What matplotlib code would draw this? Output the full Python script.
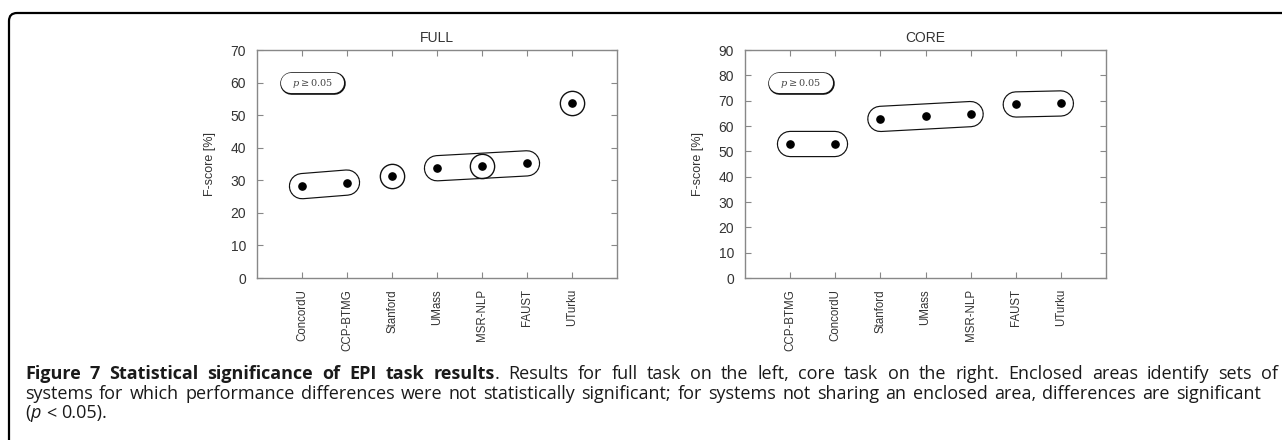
import matplotlib
matplotlib.use('Agg')
import matplotlib.pyplot as plt
import matplotlib.patheffects as pe
from matplotlib.patches import FancyBboxPatch
from matplotlib.transforms import Affine2D

W, H = 1282, 440

full_systems = ['ConcordU', 'CCP-BTMG', 'Stanford', 'UMass', 'MSR-NLP', 'FAUST', 'UTurku']
full_scores = [28.2, 29.3, 31.4, 33.7, 34.5, 35.2, 53.6]
full_groups = [['ConcordU', 'CCP-BTMG'], ['UMass', 'MSR-NLP', 'FAUST']]
full_single = ['Stanford', 'MSR-NLP', 'UTurku']

core_systems = ['CCP-BTMG', 'ConcordU', 'Stanford', 'UMass', 'MSR-NLP', 'FAUST', 'UTurku']
core_scores = [52.9, 52.9, 62.8, 64.1, 64.7, 68.5, 68.9]
core_groups = [['CCP-BTMG', 'ConcordU'], ['Stanford', 'UMass', 'MSR-NLP'], ['FAUST', 'UTurku']]
core_single = []

fig = plt.figure(figsize=(W / 100, H / 100), dpi=100)
plt.rcParams['font.family'] = ['Liberation Sans', 'DejaVu Sans']
plt.rcParams['mathtext.fontset'] = 'dejavuserif'

px = Affine2D().scale(1 / W, 1 / H) + fig.transFigure

# frame of the figure panel (rounded top-left corner)
frame = FancyBboxPatch((9, -30), 1400, H - 13 + 30, boxstyle='round,pad=0,rounding_size=8',
                       transform=px, fill=False, lw=1.6, ec='black')
fig.patches.append(frame)

capsule_fx = [pe.Stroke(linewidth=19.0, foreground='#111111'), pe.Normal()]


def panel(rect, title, systems, scores, groups, singles, ymax):
    ax = fig.add_axes(rect)
    xs = list(range(1, len(systems) + 1))
    pos = dict(zip(systems, xs))
    val = dict(zip(systems, scores))
    for g in groups:
        gx = [pos[s] for s in g]
        gy = [val[s] for s in g]
        ax.plot([gx[0], gx[-1]], [gy[0], gy[-1]], color='white', lw=17.3,
                solid_capstyle='round', path_effects=capsule_fx, zorder=2)
    for s in singles:
        ax.plot(pos[s], val[s], 'o', ms=17.5, mfc='none', mec='#111111', mew=1.0, zorder=3)
    ax.plot(xs, scores, 'o', color='black', ms=5.2, zorder=4, ls='none')

    # legend capsule
    ax.plot([0.095, 0.215], [0.855, 0.855], transform=ax.transAxes, color='white', lw=14.5,
            solid_capstyle='round', path_effects=[pe.Stroke(linewidth=16.3, foreground='#111111'),
                                                   pe.Normal()], zorder=2)
    ax.text(0.155, 0.855, r'$p \geq 0.05$', transform=ax.transAxes, ha='center', va='center',
            fontsize=7, color='#444444', zorder=3)

    ax.set_xlim(0, len(systems) + 1)
    ax.set_ylim(0, ymax)
    ax.set_xticks(xs)
    ax.set_xticklabels(systems, rotation=90, fontsize=8.3, color='#333333')
    ax.set_yticks(range(0, ymax + 1, 10))
    ax.tick_params(axis='y', labelsize=10, colors='#888888', labelcolor='#333333',
                   direction='in', length=4, right=True, pad=8)
    ax.tick_params(axis='x', colors='#888888', labelcolor='#333333',
                   direction='in', length=4, top=True, pad=8)
    for sp in ax.spines.values():
        sp.set_color('#888888')
        sp.set_linewidth(1.0)
    ax.set_title(title, fontsize=10, color='#333333', pad=6)
    ax.set_ylabel('F-score [%]', fontsize=9, color='#333333', labelpad=10)
    return ax


panel([257 / W, 1 - 278 / H, 360 / W, 228 / H], 'FULL', full_systems, full_scores,
      full_groups, full_single, 70)
panel([745 / W, 1 - 278 / H, 361 / W, 228 / H], 'CORE', core_systems, core_scores,
      core_groups, core_single, 90)

# caption, justified like the journal layout
cap_font = ['Open Sans', 'DejaVu Sans']
B, N, I = 'bold', 'normal', 'italic'
line1 = [[('Figure', B)], [('7', B)], [('Statistical', B)], [('significance', B)], [('of', B)],
         [('EPI', B)], [('task', B)], [('results', B), ('.', N)]]
line1 += [[(w, N)] for w in 'Results for full task on the left, core task on the right. '
          'Enclosed areas identify sets of'.split()]
line2 = [[(w, N)] for w in ('systems for which performance differences were not statistically '
                            'significant; for systems not sharing an enclosed area, differences '
                            'are significant').split()]
line3 = [[('(', N), ('p', I)], [('<', N)], [('0.05).', N)]]

renderer = fig.canvas.get_renderer()


def make(s, style, x, y):
    kw = dict(fontsize=13, family=cap_font, color='#1a1a1a', transform=px, va='baseline')
    if style == B:
        kw['weight'] = 'bold'
    if style == I:
        kw['style'] = 'italic'
    return fig.text(x, y, s, **kw)


def place(words, y, x0, x1=None, space=4.5):
    widths = []
    items = []
    for w in words:
        segs = []
        tot = 0
        for s, st in w:
            t = make(s, st, 0, y)
            wd = t.get_window_extent(renderer).width
            segs.append((t, wd))
            tot += wd
        items.append(segs)
        widths.append(tot)
    gap = space if x1 is None else (x1 - x0 - sum(widths)) / (len(words) - 1)
    x = x0
    for segs, wd in zip(items, widths):
        xx = x
        for t, sw in segs:
            t.set_x(xx)
            xx += sw
        x += wd + gap


place(line1, H - 379, 25, 1278)
place(line2, H - 399, 25, 1261)
place(line3, H - 418, 25, space=5)

fig.savefig('out.png', dpi=100)
